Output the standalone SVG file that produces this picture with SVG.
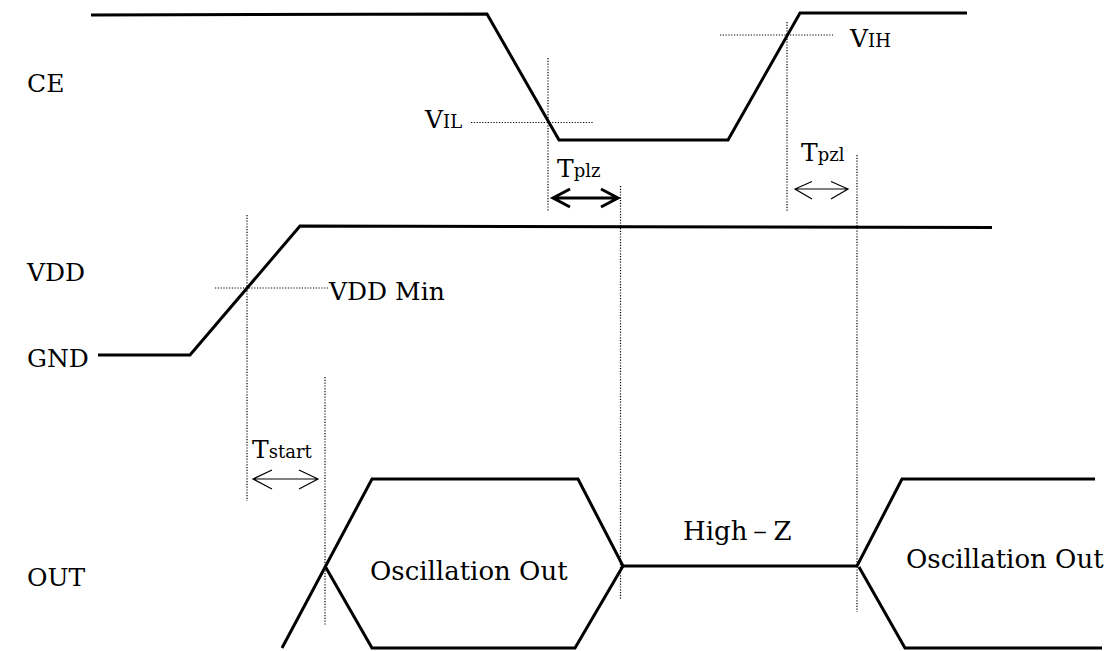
<svg xmlns="http://www.w3.org/2000/svg" width="1109" height="651" viewBox="0 0 1109 651">
<style>
.sig{fill:none;stroke:#000;stroke-width:3;stroke-linejoin:miter}
.dot{fill:none;stroke:#000;stroke-width:1.2;stroke-dasharray:1.2 1.6}
.arr{fill:none;stroke:#000;stroke-width:1.2}
.arrb{fill:none;stroke:#000;stroke-width:3}
text{font-family:"DejaVu Serif","Liberation Serif",serif;fill:#000}
.lb{font-size:25px}
.big{font-size:26px}
.sub{font-size:18px}
</style>
<rect width="1109" height="651" fill="#fff"/>
<g id="labels">
<text class="lb" x="27" y="92">CE</text>
<text class="lb" x="27" y="281">VDD</text>
<text class="lb" x="27" y="367">GND</text>
<text class="lb" x="27" y="586">OUT</text>
</g>
<g id="ce-signal">
<polyline class="sig" points="91,15 487,14 559,140 728,140 800,13 967,13"/>
</g>
<g id="vdd-signal">
<polyline class="sig" points="98,355 190,355 300,226 992,227.5"/>
</g>
<g id="out-signal">
<polyline class="sig" points="282,648 372,479 578,479 623,566 857,566 902,479 1095,479"/>
<polyline class="sig" points="325,566 372,648 575,648 623,566"/>
<polyline class="sig" points="859,567 905,648 1102,648"/>
<text class="big" x="370" y="580">Oscillation Out</text>
<text class="big" x="906" y="568">Oscillation Out</text>
<text class="big" x="683" y="540">High－Z</text>
</g>
<g id="thresholds">
<line class="dot" x1="471" y1="122.5" x2="593" y2="122.5"/>
<text x="425" y="128"><tspan class="lb">V</tspan><tspan class="sub">IL</tspan></text>
<line class="dot" x1="720" y1="35" x2="833" y2="35"/>
<text x="850" y="47"><tspan class="lb">V</tspan><tspan class="sub">IH</tspan></text>
<line class="dot" x1="215" y1="288" x2="328" y2="288"/>
<text class="lb" x="329" y="300">VDD Min</text>
</g>
<g id="connectors">
<line class="dot" x1="548" y1="58" x2="548" y2="212"/>
<line class="dot" x1="620.5" y1="186" x2="620.5" y2="600"/>
<line class="dot" x1="787" y1="22" x2="787" y2="211"/>
<line class="dot" x1="857" y1="155" x2="857" y2="612"/>
<line class="dot" x1="247" y1="215" x2="247" y2="501"/>
<line class="dot" x1="325" y1="377" x2="325" y2="625"/>
<path class="arrb" d="M553,198 H618 M570,189 L553,198 L570,207 M601,189 L618,198 L601,207"/>
<path class="arr" d="M795,189 H848 M812,181.5 L795,189 L812,199 M831,181.5 L848,189 L831,199"/>
<path class="arr" d="M253,479 H318 M272,470 L253,479 L272,489 M299,470 L318,479 L299,489"/>
</g>
<g id="time-labels">
<text x="557" y="177"><tspan class="lb">T</tspan><tspan class="sub">plz</tspan></text>
<text x="801" y="161"><tspan class="lb">T</tspan><tspan class="sub">pzl</tspan></text>
<text x="252" y="458"><tspan class="lb">T</tspan><tspan class="sub">start</tspan></text>
</g>
</svg>
